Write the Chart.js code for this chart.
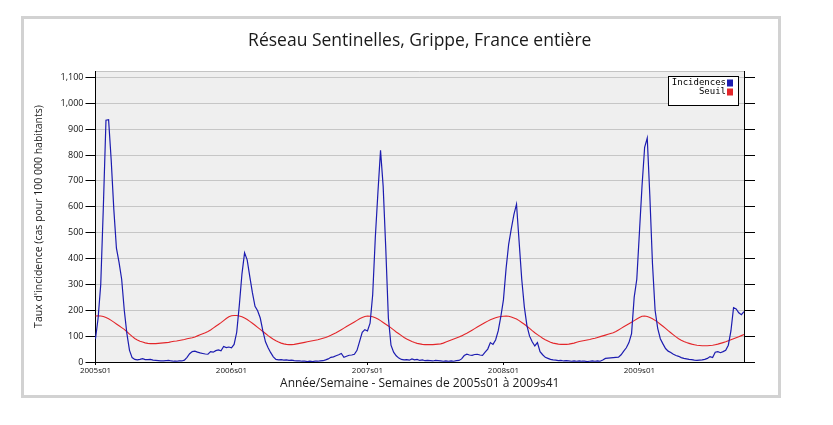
<!DOCTYPE html>
<html>
<head>
<meta charset="utf-8">
<script src="https://cdn.jsdelivr.net/npm/chart.js@4.4.0/dist/chart.umd.min.js"></script>
<style>
  html, body { margin: 0; padding: 0; background: #fff; overflow: hidden; }
  #frame { position: absolute; left: 21px; top: 16px; width: 754px; height: 376px; border: 3px solid #d2d2d2; }
  #wrap { position: absolute; left: 4px; top: 0; width: 833px; height: 425px; }
</style>
</head>
<body>
<div id="frame"></div>
<div id="wrap"><canvas id="grippe" width="833" height="425"></canvas></div>
<script>
// weekly data, 2005s01 -> 2009s41
const years = [2005, 2006, 2007, 2008, 2009];
const weeksPerYear = [52, 52, 52, 52, 41];
const xTickLabels = ['2005s01', '2006s01', '2007s01', '2008s01', '2009s01'];

const incidences2005 = [90, 170, 300, 600, 935, 937, 780, 590, 440, 385, 320, 200, 110, 45, 17, 10, 8, 10, 13, 9,
  9, 10, 7, 6, 5, 4, 4, 5, 6, 4, 3, 3, 4, 4, 7, 18, 32, 40, 42, 38, 35, 33, 31, 30, 40, 38, 44, 47, 43, 60, 56, 58];
const incidences2006 = [55, 68, 115, 220, 340, 422, 395, 330, 268, 215, 198, 170, 120, 78, 55, 36, 20, 10, 8, 9,
  7, 8, 6, 7, 5, 4, 4, 3, 3, 2, 3, 2, 3, 3, 4, 5, 8, 12, 18, 20, 24, 28, 33, 18, 22, 26, 27, 30, 45, 80, 115, 125];
const incidences2007 = [120, 150, 260, 480, 655, 818, 680, 440, 170, 65, 38, 24, 15, 10, 8, 9, 7, 12, 8, 10,
  6, 8, 5, 6, 5, 4, 6, 5, 4, 3, 4, 3, 4, 3, 5, 6, 12, 25, 30, 27, 26, 29, 30, 27, 26, 38, 50, 75, 68, 85, 120, 175];
const incidences2008 = [240, 360, 455, 515, 570, 610, 465, 320, 212, 140, 100, 78, 62, 75, 40, 28, 18, 14, 10, 8,
  7, 5, 6, 4, 5, 4, 3, 4, 3, 4, 3, 3, 2, 3, 4, 3, 4, 3, 8, 14, 15, 16, 17, 18, 19, 28, 42, 55, 75, 110, 250, 320];
const incidences2009 = [500, 680, 830, 866, 640, 380, 200, 130, 90, 70, 52, 42, 37, 30, 25, 22, 17, 14, 12, 10,
  9, 7, 6, 7, 8, 10, 14, 21, 17, 38, 40, 36, 40, 45, 65, 120, 210, 205, 190, 183, 195];

const seuil2005 = [178, 179, 178, 176, 172, 167, 161, 154, 147, 140, 133, 126, 117,
  108, 99, 91, 85, 80, 77, 74, 72, 71, 71, 71, 72, 73,
  74, 75, 76, 78, 80, 81, 83, 85, 87, 90, 92, 94, 97,
  101, 105, 109, 113, 118, 124, 131, 138, 145, 152, 160, 168, 175];
const seuil2006 = [179, 180, 180, 178, 175, 170, 164, 157, 150, 142, 134, 126, 118,
  110, 102, 95, 88, 82, 77, 73, 70, 68, 67, 67, 68, 70,
  72, 74, 76, 78, 80, 82, 84, 86, 89, 92, 95, 99, 103,
  108, 113, 119, 125, 131, 137, 143, 149, 155, 161, 167, 172, 176];
const seuil2007 = [178, 177, 175, 171, 166, 160, 153, 146, 139, 132, 124, 116, 109,
  102, 95, 89, 84, 79, 75, 72, 70, 68, 67, 67, 67, 67,
  68, 69, 70, 73, 77, 81, 85, 89, 93, 97, 101, 106, 111,
  117, 123, 129, 135, 141, 147, 153, 158, 163, 167, 171, 174, 176];
const seuil2008 = [177, 178, 177, 174, 170, 166, 160, 153, 146, 138, 130, 121, 113,
  106, 99, 92, 86, 81, 76, 73, 71, 69, 68, 68, 68, 69,
  71, 73, 76, 79, 81, 83, 85, 87, 90, 92, 95, 98, 101,
  104, 107, 110, 113, 118, 124, 130, 136, 142, 148, 154, 160, 166];
const seuil2009 = [172, 177, 178, 176, 172, 167, 161, 154, 146, 138, 130, 121, 113,
  105, 97, 90, 84, 79, 75, 72, 69, 67, 65, 64, 63, 63,
  63, 64, 65, 67, 69, 72, 75, 78, 82, 86, 90, 94, 98, 102, 106];

const weekLabels = years.flatMap((yr, k) =>
  Array.from({ length: weeksPerYear[k] }, (_, w) => yr + 's' + String(w + 1).padStart(2, '0')));
const incidences = [].concat(incidences2005, incidences2006, incidences2007, incidences2008, incidences2009);
const seuil = [].concat(seuil2005, seuil2006, seuil2007, seuil2008, seuil2009);

const FONT = '"Open Sans", "DejaVu Sans", sans-serif';

// grey plot background
const plotBackground = {
  id: 'plotBackground',
  beforeDraw(chart) {
    const { ctx, chartArea: a } = chart;
    ctx.save();
    ctx.fillStyle = '#efefef';
    ctx.fillRect(a.left, a.top, a.width, a.height);
    ctx.strokeStyle = '#c4c4c4';
    ctx.lineWidth = 1;
    ctx.beginPath();
    ctx.moveTo(a.left, a.top + 0.5);
    ctx.lineTo(a.right, a.top + 0.5);
    ctx.stroke();
    ctx.restore();
  }
};

// small boxed legend, top right of the plot, swatch after the text
const boxedLegend = {
  id: 'boxedLegend',
  afterDraw(chart) {
    const { ctx, chartArea: a } = chart;
    const right = a.right - 5, top = a.top + 5, w = 71, h = 30;
    ctx.save();
    ctx.fillStyle = '#fff';
    ctx.fillRect(right - w, top, w, h);
    ctx.strokeStyle = '#000';
    ctx.lineWidth = 1;
    ctx.strokeRect(right - w + 0.5, top + 0.5, w - 1, h - 1);
    ctx.font = '9px "DejaVu Sans Mono", monospace';
    ctx.textAlign = 'right';
    ctx.textBaseline = 'middle';
    chart.data.datasets.forEach((ds, k) => {
      const cy = top + 7 + k * 9;
      ctx.fillStyle = ds.borderColor;
      ctx.fillRect(right - 12, cy - 3.5, 6, 7);
      ctx.fillStyle = '#000';
      ctx.fillText(ds.label, right - 13, cy);
    });
    ctx.restore();
  }
};

new Chart(document.getElementById('grippe').getContext('2d'), {
  type: 'line',
  data: {
    labels: weekLabels,
    datasets: [
      { label: 'Incidences', data: incidences, borderColor: '#1c1cb0', borderWidth: 1.2 },
      { label: 'Seuil', data: seuil, borderColor: '#e3262a', borderWidth: 1.1 }
    ]
  },
  options: {
    responsive: false,
    animation: false,
    elements: { point: { radius: 0 }, line: { tension: 0 } },
    layout: { padding: { left: 25, right: 82, top: 16, bottom: 30 } },
    plugins: {
      legend: { display: false },
      tooltip: { enabled: false },
      title: {
        display: true,
        fullSize: false,
        text: 'Réseau Sentinelles, Grippe, France entière',
        color: '#1a1a1a',
        font: { family: FONT, size: 17.5, weight: 'normal' },
        padding: { top: 15, bottom: 19 }
      }
    },
    scales: {
      x: {
        type: 'category',
        offset: false,
        grid: { drawOnChartArea: false, tickLength: 3, tickColor: '#000' },
        border: { color: '#000' },
        afterBuildTicks: (scale) => {
          scale.ticks = scale.ticks.filter(t => xTickLabels.includes(weekLabels[t.value]));
        },
        ticks: { autoSkip: false, maxRotation: 0, padding: 1, color: '#111', font: { family: FONT, size: 8 } },
        title: {
          display: true,
          text: 'Année/Semaine - Semaines de 2005s01 à 2009s41',
          color: '#1a1a1a',
          font: { family: FONT, size: 12 },
          padding: { top: 0, bottom: 4 }
        }
      },
      y: {
        min: 0,
        max: 1125,
        grid: { color: '#c6c6c6', tickColor: '#000', tickLength: 10 },
        border: { color: '#000' },
        ticks: { stepSize: 100, includeBounds: false, padding: 2, color: '#111', font: { family: FONT, size: 9 } },
        title: {
          display: true,
          text: "Taux d'incidence (cas pour 100 000 habitants)",
          color: '#1a1a1a',
          font: { family: FONT, size: 10.5 },
          padding: { top: 4, bottom: 13 }
        }
      },
      y2: {
        position: 'right',
        min: 0,
        max: 1125,
        grid: { drawOnChartArea: false, tickColor: '#000', tickLength: 11 },
        border: { color: '#000' },
        ticks: { display: false, stepSize: 100, includeBounds: false }
      }
    }
  },
  plugins: [plotBackground, boxedLegend]
});
</script>
</body>
</html>
